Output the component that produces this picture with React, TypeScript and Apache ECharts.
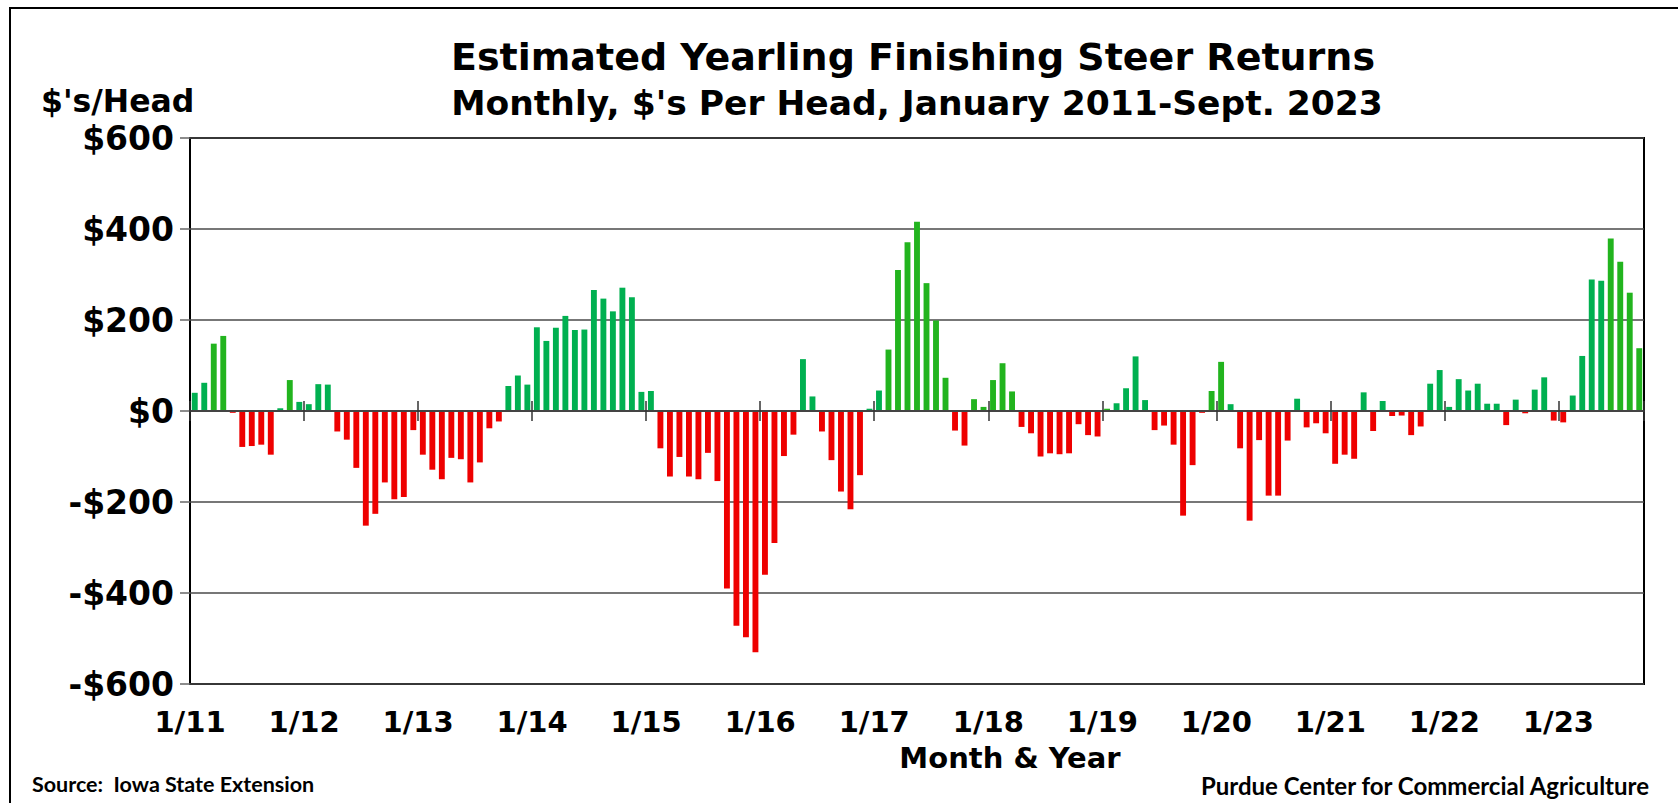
import React, { useEffect, useRef } from "react";
import * as echarts from "echarts";

// ---- data ----
const years = ["11", "12", "13", "14", "15", "16", "17", "18", "19", "20", "21", "22", "23"];
const yearTickLabels = ["1/11", "1/12", "1/13", "1/14", "1/15", "1/16", "1/17", "1/18", "1/19", "1/20", "1/21", "1/22", "1/23"];

const returns2011 = [40, 62, 148, 165, -4, -79, -77, -74, -96, 6, 68, 20];
const returns2012 = [15, 59, 58, -45, -63, -125, -252, -226, -157, -194, -189, -42];
const returns2013 = [-96, -129, -150, -103, -106, -157, -113, -38, -23, 55, 78, 58];
const returns2014 = [184, 154, 183, 209, 178, 179, 266, 247, 219, 271, 250, 42];
const returns2015 = [44, -82, -144, -101, -144, -150, -92, -154, -390, -472, -497, -530];
const returns2016 = [-360, -290, -99, -52, 114, 32, -45, -108, -177, -216, -141, 5];
const returns2017 = [45, 135, 310, 371, 416, 281, 199, 73, -43, -76, 26, 9];
const returns2018 = [68, 105, 43, -35, -49, -100, -93, -95, -93, -29, -53, -56];
const returns2019 = [5, 17, 50, 120, 24, -42, -32, -74, -230, -119, -4, 44];
const returns2020 = [108, 15, -82, -241, -64, -186, -186, -65, 27, -36, -27, -49];
const returns2021 = [-116, -96, -105, 41, -44, 22, -11, -10, -53, -34, 60, 90];
const returns2022 = [9, 70, 45, 60, 16, 16, -31, 25, -5, 47, 74, -21];
const returns2023 = [-25, 34, 121, 289, 286, 379, 328, 260, 138];

const returnsByYear = [
  returns2011, returns2012, returns2013, returns2014, returns2015, returns2016, returns2017,
  returns2018, returns2019, returns2020, returns2021, returns2022, returns2023,
];

// months drawn in the lighter green in the original
const lighterGreenMonths = [
  "3/11", "4/11", "11/11", "2/17", "3/17", "4/17", "5/17", "6/17", "7/17", "8/17",
  "11/17", "12/17", "1/18", "2/18", "3/18", "1/19", "12/19", "1/20", "6/23", "7/23", "8/23", "9/23",
];

const months: string[] = [];
const values: number[] = [];
returnsByYear.forEach((arr, yi) =>
  arr.forEach((v, mi) => {
    months.push(`${mi + 1}/${years[yi]}`);
    values.push(v);
  })
);

const FONT = "'DejaVu Sans', Verdana, sans-serif";
const SMALL_FONT = "Lato, 'Open Sans', sans-serif";
const RED = "#EE0000";
const TEAL_GREEN = "#00B050";
const LIGHT_GREEN = "#22B41E";

export default function App() {
  const ref = useRef<HTMLDivElement>(null);

  useEffect(() => {
    if (!ref.current) return;
    const chart = echarts.init(ref.current, null, { renderer: "svg" });
    const lighter = new Set(lighterGreenMonths);
    const tickInterval = (_i: number, v: string) => v.startsWith("1/");
    const tickStyle = { color: "#333", width: 1.5 };

    chart.setOption({
      animation: false,
      backgroundColor: "#ffffff",
      grid: {
        left: 190,
        top: 138,
        width: 1454,
        height: 546,
        show: true,
        borderColor: "#000",
        borderWidth: 2,
      },
      xAxis: [
        {
          type: "category",
          data: months,
          position: "bottom",
          z: 5,
          axisLine: { show: true, onZero: true, onZeroAxisIndex: 0, lineStyle: { color: "#444", width: 2 } },
          axisTick: { show: true, interval: tickInterval, length: 10, lineStyle: tickStyle },
          axisLabel: { show: false },
          splitLine: { show: false },
        },
        {
          type: "category",
          data: months,
          position: "top",
          z: 5,
          axisLine: { show: false, onZero: true, onZeroAxisIndex: 1 },
          axisTick: { show: true, interval: tickInterval, length: 10, lineStyle: tickStyle },
          axisLabel: { show: false },
          splitLine: { show: false },
        },
        {
          type: "value",
          min: 0,
          max: months.length,
          interval: 12,
          position: "bottom",
          axisLine: { show: false, onZero: false },
          axisTick: { show: false },
          splitLine: { show: false },
          axisLabel: {
            showMaxLabel: false,
            formatter: (v: number) => yearTickLabels[v / 12] ?? "",
            fontFamily: FONT,
            fontWeight: "bold",
            fontSize: 29,
            color: "#000",
            margin: 23,
          },
        },
      ],
      yAxis: [
        {
          type: "value",
          min: -600,
          max: 600,
          interval: 200,
          axisLine: { show: false },
          axisTick: { show: true, length: 10, lineStyle: { color: "#666", width: 1.5 } },
          splitLine: { show: true, lineStyle: { color: "#4a4a4a", width: 1.5 } },
          axisLabel: {
            formatter: (v: number) => (v < 0 ? `-$${-v}` : `$${v}`),
            fontFamily: FONT,
            fontWeight: "bold",
            fontSize: 33,
            color: "#000",
            margin: 16,
          },
        },
        {
          type: "value",
          min: -600,
          max: 600,
          interval: 200,
          show: false,
          splitLine: { show: false },
        },
      ],
      series: [
        {
          type: "bar",
          xAxisIndex: 0,
          yAxisIndex: 0,
          data: values,
          barCategoryGap: "38%",
          itemStyle: {
            color: (p: any) => (p.value < 0 ? RED : lighter.has(p.name) ? LIGHT_GREEN : TEAL_GREEN),
          },
        },
      ],
      graphic: [
        {
          type: "polyline",
          silent: true,
          shape: { points: [[1680, 8], [10, 8], [10, 805]] },
          style: { stroke: "#000", lineWidth: 2, fill: null },
        },
        {
          type: "text",
          x: 913,
          y: 57,
          style: {
            text: "Estimated Yearling Finishing Steer Returns",
            fontFamily: FONT,
            fontWeight: "bold",
            fontSize: 38,
            fill: "#000",
            align: "center",
            verticalAlign: "middle",
          },
        },
        {
          type: "text",
          x: 917,
          y: 103,
          style: {
            text: "Monthly, $'s Per Head, January 2011-Sept. 2023",
            fontFamily: FONT,
            fontWeight: "bold",
            fontSize: 34.5,
            fill: "#000",
            align: "center",
            verticalAlign: "middle",
          },
        },
        {
          type: "text",
          x: 41,
          y: 101,
          style: {
            text: "$'s/Head",
            fontFamily: FONT,
            fontWeight: "bold",
            fontSize: 31.5,
            fill: "#000",
            align: "left",
            verticalAlign: "middle",
          },
        },
        {
          type: "text",
          x: 1010,
          y: 758,
          style: {
            text: "Month & Year",
            fontFamily: FONT,
            fontWeight: "bold",
            fontSize: 29,
            fill: "#000",
            align: "center",
            verticalAlign: "middle",
          },
        },
        {
          type: "text",
          x: 32,
          y: 784,
          style: {
            text: "Source:  Iowa State Extension",
            fontFamily: SMALL_FONT,
            fontWeight: "bold",
            fontSize: 21.5,
            fill: "#000",
            align: "left",
            verticalAlign: "middle",
          },
        },
        {
          type: "text",
          x: 1649,
          y: 785,
          style: {
            text: "Purdue Center for Commercial Agriculture",
            fontFamily: SMALL_FONT,
            fontWeight: "bold",
            fontSize: 24,
            fill: "#000",
            align: "right",
            verticalAlign: "middle",
          },
        },
      ],
    });

    return () => chart.dispose();
  }, []);

  return (
    <div
      ref={ref}
      style={{ position: "fixed", left: 0, top: 0, width: 1678, height: 803, background: "#fff" }}
    />
  );
}
